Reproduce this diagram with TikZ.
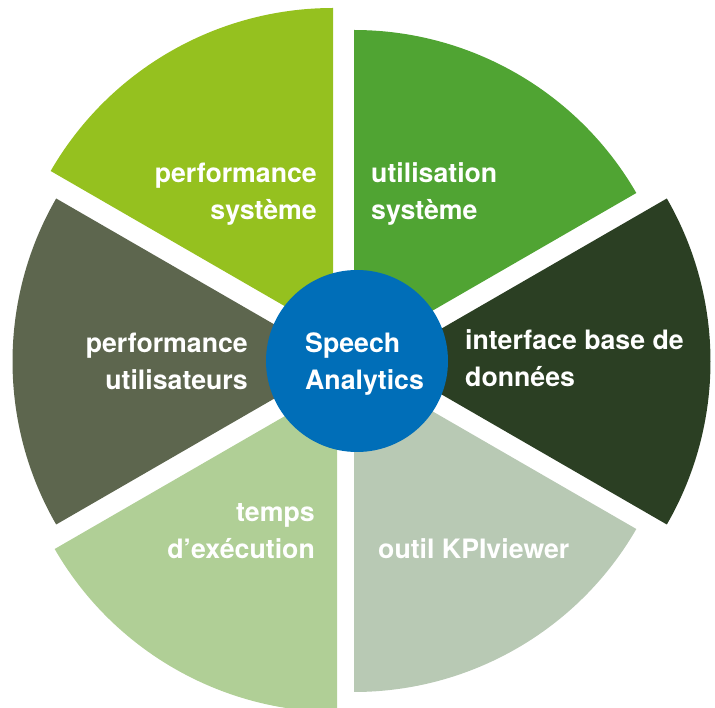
\documentclass[tikz,border=0pt]{standalone}
\usepackage{fontspec}
\setmainfont{TeX Gyre Heros}
\definecolor{cTL}{HTML}{95C11F}
\definecolor{cTR}{HTML}{50A433}
\definecolor{cR}{HTML}{2B3F23}
\definecolor{cBR}{HTML}{B8C9B4}
\definecolor{cBL}{HTML}{B0CF96}
\definecolor{cL}{HTML}{5D664E}
\definecolor{cC}{HTML}{006EB8}
\tikzset{
  lbl/.style={text=white, inner sep=0pt, font=\fontsize{26.7}{37}\selectfont\bfseries},
  lblR/.style={lbl, align=right, anchor=base east},
  lblL/.style={lbl, align=left, anchor=base west},
}
\newcommand{\sector}[4]{% color, apex, start, end
  \fill[#1] (#2) -- ++(#3:326) arc[start angle=#3, end angle=#4, radius=326] -- cycle;}
\begin{document}
\begin{tikzpicture}[x=1pt,y=1pt]
\useasboundingbox (0,0) rectangle (715,707);
\coordinate (aTL) at (333,373);
\coordinate (aTR) at (354,351);
\coordinate (aR) at (384.5,345.5);
\coordinate (aBR) at (354,341);
\coordinate (aBL) at (337,321);
\coordinate (aL) at (338.5,345.5);
\sector{cTL}{aTL}{90}{150}
\sector{cTR}{aTR}{30}{90}
\sector{cR}{aR}{-30}{30}
\sector{cBR}{aBR}{-90}{-30}
\sector{cBL}{aBL}{-150}{-90}
\sector{cL}{aL}{150}{210}
\node[circle, fill=cC, minimum size=182pt, inner sep=0pt] (hub) at (357,346) {};
\node[lblL] (hubtxt) at (305,317) {Speech\\Analytics};
\node[lblR] (tTL) at (317,487) {performance\\système};
\node[lblL] (tTR) at (371,487) {utilisation\\système};
\node[lblL] (tR) at (465,320) {interface base de\\données};
\node[lblR] (tL) at (248,317) {performance\\utilisateurs};
\node[lblR] (tBL) at (315,148) {temps\\d’exécution};
\node[lblL] (tBR) at (378,148) {outil KPIviewer};
\end{tikzpicture}
\end{document}
